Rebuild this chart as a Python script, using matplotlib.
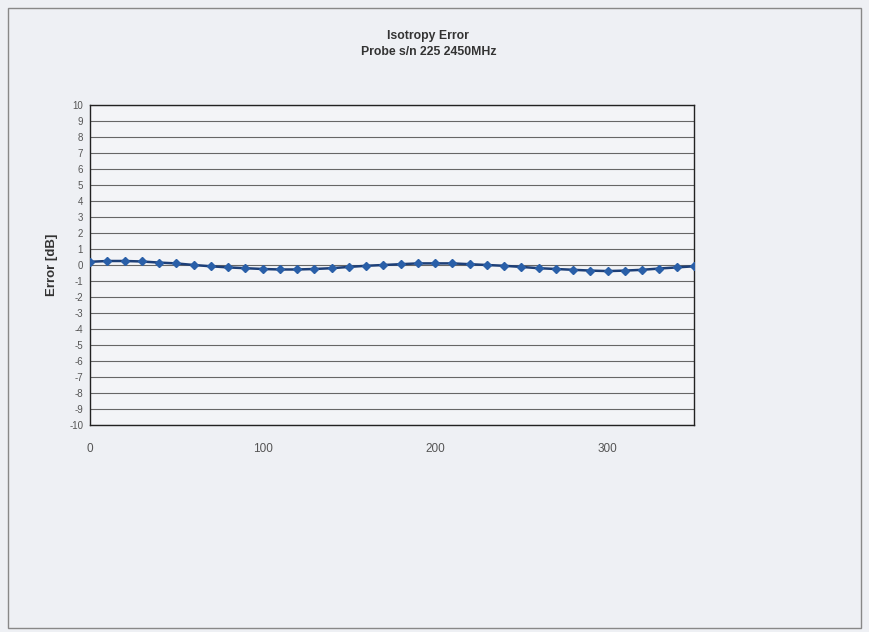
import matplotlib
matplotlib.use("Agg")
import matplotlib.pyplot as plt
import matplotlib.patches as mpatches

plt.rcParams['font.family'] = ['Liberation Sans', 'DejaVu Sans']
plt.rcParams['axes.unicode_minus'] = False

# angle (deg) and isotropy error (dB)
angles = [0, 10, 20, 30, 40, 50, 60, 70, 80, 90, 100, 110, 120, 130, 140, 150, 160, 170,
          180, 190, 200, 210, 220, 230, 240, 250, 260, 270, 280, 290, 300, 310, 320, 330, 340, 350]
errors = [0.20, 0.25, 0.25, 0.22, 0.15, 0.10, 0.00, -0.08, -0.15, -0.20, -0.25, -0.28,
          -0.28, -0.25, -0.20, -0.12, -0.05, 0.00, 0.05, 0.10, 0.10, 0.10, 0.05, 0.00,
          -0.05, -0.12, -0.20, -0.25, -0.30, -0.35, -0.38, -0.35, -0.30, -0.22, -0.15, -0.08]

y_ticks = list(range(-10, 11))
x_ticks = [0, 100, 200, 300]

bg = '#eef0f4'
fig = plt.figure(figsize=(8.69, 6.32), dpi=100, facecolor=bg)
ax = fig.add_axes([0.1036, 0.3275, 0.6950, 0.5064])
ax.set_facecolor('#f3f4f7')

ax.plot(angles, errors, color='#1d3f78', linewidth=1.8, marker='D', markersize=4.5,
        markerfacecolor='#2a5fa8', markeredgecolor='#2a5fa8', zorder=3)

ax.set_xlim(0, 350)
ax.set_ylim(-10, 10)
ax.set_yticks(y_ticks)
ax.set_xticks(x_ticks)
ax.tick_params(axis='y', labelsize=7, labelcolor='#555555', length=0, pad=5)
ax.tick_params(axis='x', labelsize=8.5, labelcolor='#555555', length=0, pad=13)
ax.grid(True, axis='y', color='#666666', linewidth=0.8)
ax.set_axisbelow(True)
for s in ax.spines.values():
    s.set_color('#222222')
    s.set_linewidth(1.0)

ax.set_ylabel('Error [dB]', fontsize=9.5, fontweight='bold', color='#333333', labelpad=8)

fig.text(0.493, 0.943, 'Isotropy Error', ha='center', va='center', fontsize=8.8,
         fontweight='bold', color='#333333')
fig.text(0.493, 0.918, 'Probe s/n 225 2450MHz', ha='center', va='center', fontsize=8.8,
         fontweight='bold', color='#333333')

# outer chart border
fig.patches.append(mpatches.Rectangle((0.009, 0.006), 0.982, 0.982, transform=fig.transFigure,
                                      fill=False, edgecolor='#888888', linewidth=1.0))

fig.savefig('out.png', dpi=100, facecolor=bg)
